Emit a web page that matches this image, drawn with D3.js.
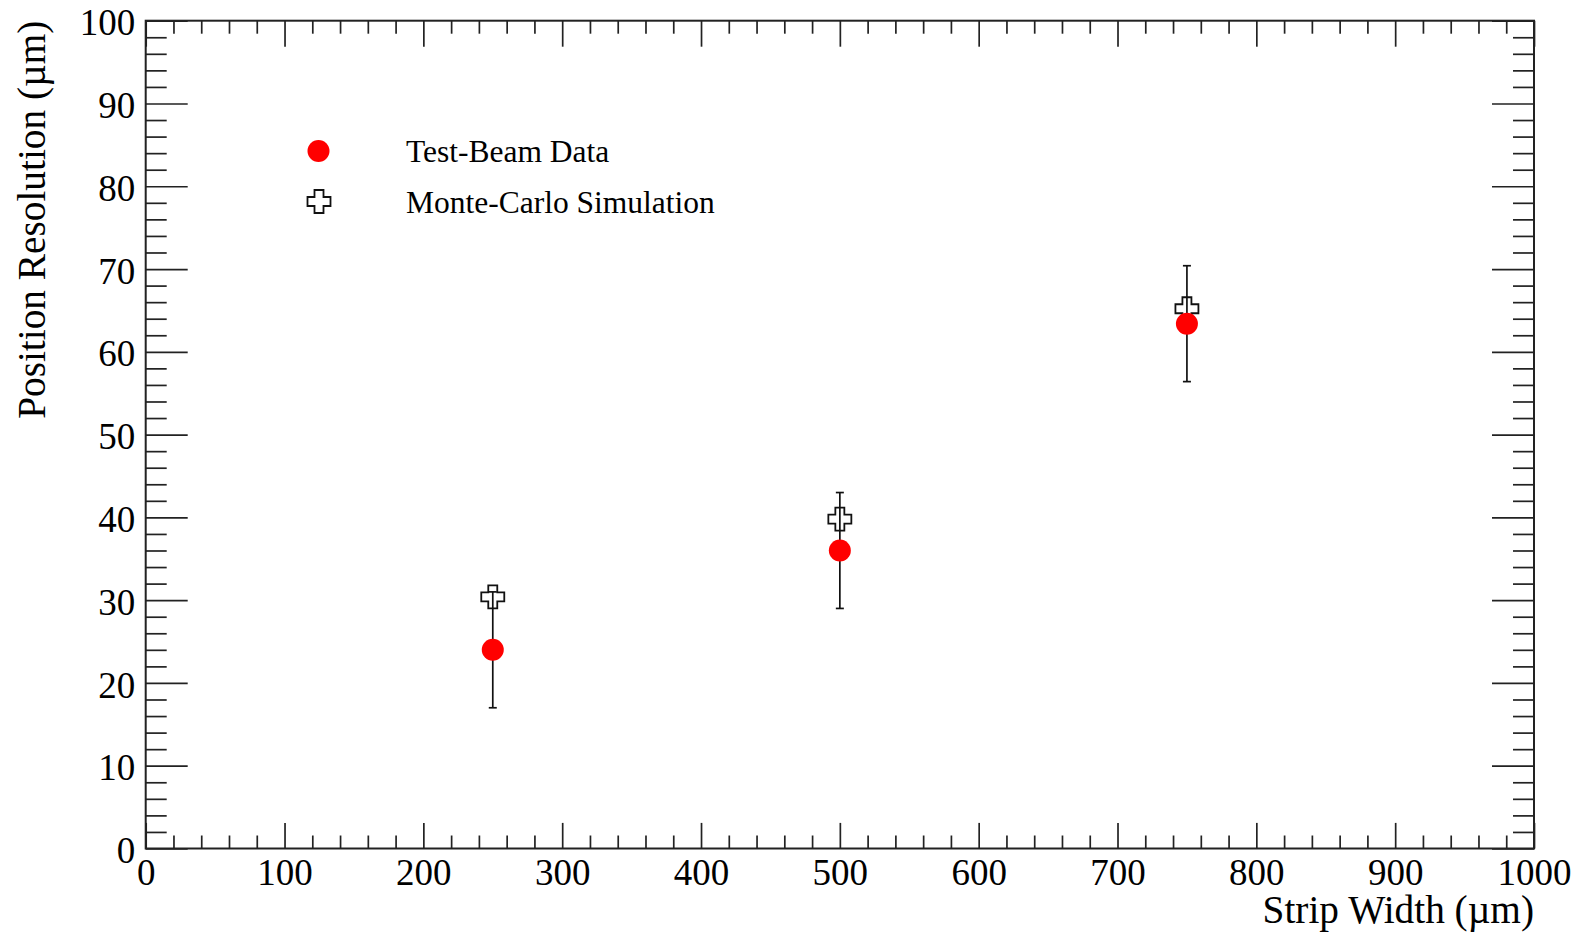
<!DOCTYPE html>
<html>
<head>
<meta charset="utf-8">
<script src="https://cdn.jsdelivr.net/npm/d3@7"></script>
<style>
  body { margin: 0; background: #fff; }
  svg text { font-family: "Liberation Serif", "Times New Roman", serif; fill: #000; }
</style>
</head>
<body>
<svg id="chart" width="1580" height="935"></svg>
<script>
// values
var stripWidths = [250, 500, 750];
var beamRes = [24, 36, 63.4];
var beamErr = [7, 7, 7];
var mcRes = [30.4, 39.8, 65.2];
var xMajor = [0, 100, 200, 300, 400, 500, 600, 700, 800, 900, 1000];
var yMajor = [0, 10, 20, 30, 40, 50, 60, 70, 80, 90, 100];
var legendNames = ["Test-Beam Data", "Monte-Carlo Simulation"];

var svg = d3.select("#chart");

var padL = 145.7, padR = 1534, padT = 20.7, padB = 848.5;

var x = d3.scaleLinear().domain([0, 1000]).range([padL, padR]);
var y = d3.scaleLinear().domain([0, 100]).range([padB, padT]);

var xMinor = d3.range(0, 1001, 20).filter(function(v) { return v % 100 !== 0; });
var yMinor = d3.range(0, 101, 2).filter(function(v) { return v % 10 !== 0; });

function styleAxis(g) {
  g.select(".domain").remove();
  g.selectAll(".tick line").attr("stroke", "#222").attr("stroke-width", 1.7);
  g.selectAll(".tick text").attr("font-size", 37).attr("font-family", "Liberation Serif");
}

// bottom axis
svg.append("g").attr("transform", "translate(0," + padB + ")")
  .call(d3.axisBottom(x).tickValues(xMajor).tickSizeInner(-25.6).tickSizeOuter(0).tickPadding(10).tickFormat(d3.format("d")))
  .call(styleAxis);
svg.append("g").attr("transform", "translate(0," + padB + ")")
  .call(d3.axisBottom(x).tickValues(xMinor).tickSizeInner(-13).tickSizeOuter(0).tickFormat(""))
  .call(styleAxis);
// top axis (ticks only)
svg.append("g").attr("transform", "translate(0," + padT + ")")
  .call(d3.axisTop(x).tickValues(xMajor).tickSizeInner(-26).tickSizeOuter(0).tickFormat(""))
  .call(styleAxis);
svg.append("g").attr("transform", "translate(0," + padT + ")")
  .call(d3.axisTop(x).tickValues(xMinor).tickSizeInner(-13).tickSizeOuter(0).tickFormat(""))
  .call(styleAxis);

// left axis
svg.append("g").attr("transform", "translate(" + padL + ",0)")
  .call(d3.axisLeft(y).tickValues(yMajor).tickSizeInner(-42).tickSizeOuter(0).tickPadding(10.5).tickFormat(d3.format("d")))
  .call(styleAxis)
  .selectAll(".tick text").attr("dy", "0.38em");
svg.append("g").attr("transform", "translate(" + padL + ",0)")
  .call(d3.axisLeft(y).tickValues(yMinor).tickSizeInner(-21).tickSizeOuter(0).tickFormat(""))
  .call(styleAxis);
// right axis (ticks only)
svg.append("g").attr("transform", "translate(" + padR + ",0)")
  .call(d3.axisRight(y).tickValues(yMajor).tickSizeInner(-42).tickSizeOuter(0).tickFormat(""))
  .call(styleAxis);
svg.append("g").attr("transform", "translate(" + padR + ",0)")
  .call(d3.axisRight(y).tickValues(yMinor).tickSizeInner(-21).tickSizeOuter(0).tickFormat(""))
  .call(styleAxis);

// frame
svg.append("rect")
  .attr("x", padL).attr("y", padT)
  .attr("width", padR - padL).attr("height", padB - padT)
  .attr("fill", "none").attr("stroke", "#222").attr("stroke-width", 2);

// axis titles
svg.append("text")
  .attr("x", padR).attr("y", 923)
  .attr("text-anchor", "end").attr("font-size", 39.3)
  .text("Strip Width (\u00b5m)");
svg.append("text")
  .attr("transform", "translate(44.5," + padT + ") rotate(-90)")
  .attr("text-anchor", "end").attr("font-size", 39.3)
  .text("Position Resolution (\u00b5m)");

var crossPath = "M-4.5,-11.5h9v7h7v9h-7v7h-9v-7h-7v-9h7z";

var pts = stripWidths.map(function(w, i) {
  return { w: w, r: beamRes[i], e: beamErr[i], mc: mcRes[i] };
});

// error bars of the test-beam data
var eb = svg.append("g").attr("stroke", "#111").attr("stroke-width", 1.7);
eb.selectAll("line.v").data(pts).enter().append("line")
  .attr("x1", function(d) { return x(d.w); }).attr("x2", function(d) { return x(d.w); })
  .attr("y1", function(d) { return y(d.r - d.e); }).attr("y2", function(d) { return y(d.r + d.e); });
eb.selectAll("line.lo").data(pts).enter().append("line")
  .attr("x1", function(d) { return x(d.w) - 4; }).attr("x2", function(d) { return x(d.w) + 4; })
  .attr("y1", function(d) { return y(d.r - d.e); }).attr("y2", function(d) { return y(d.r - d.e); });
eb.selectAll("line.hi").data(pts).enter().append("line")
  .attr("x1", function(d) { return x(d.w) - 4; }).attr("x2", function(d) { return x(d.w) + 4; })
  .attr("y1", function(d) { return y(d.r + d.e); }).attr("y2", function(d) { return y(d.r + d.e); });

// monte-carlo open crosses
svg.append("g").selectAll("path").data(pts).enter().append("path")
  .attr("d", crossPath)
  .attr("transform", function(d) { return "translate(" + x(d.w) + "," + y(d.mc) + ")"; })
  .attr("fill", "none").attr("stroke", "#111").attr("stroke-width", 1.8);

// test-beam red dots
svg.append("g").selectAll("circle").data(pts).enter().append("circle")
  .attr("cx", function(d) { return x(d.w); })
  .attr("cy", function(d) { return y(d.r); })
  .attr("r", 11).attr("fill", "#ff0000");

// legend
var lg = svg.append("g");
lg.append("circle").attr("cx", 318.5).attr("cy", 151).attr("r", 11).attr("fill", "#ff0000");
lg.append("path").attr("d", crossPath).attr("transform", "translate(319,201.5)")
  .attr("fill", "none").attr("stroke", "#111").attr("stroke-width", 1.8);
lg.selectAll("text").data(legendNames).enter().append("text")
  .attr("x", 406).attr("y", function(d, i) { return 162.3 + i * 50.4; })
  .attr("font-size", 31.5)
  .text(function(d) { return d; });
</script>
</body>
</html>
